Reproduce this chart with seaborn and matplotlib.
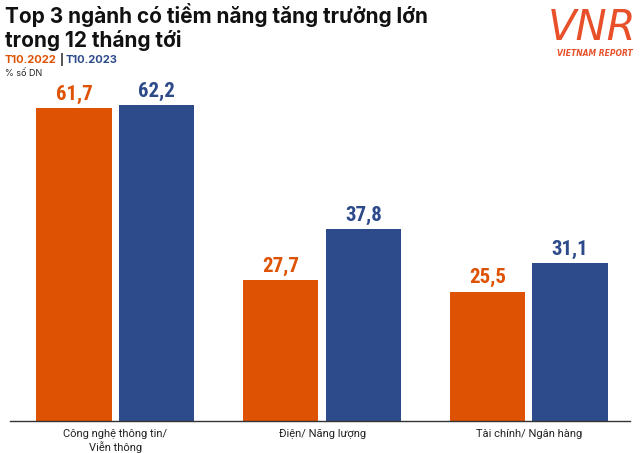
import pandas as pd
import matplotlib.pyplot as plt
import seaborn as sns

# data
categories = ['Công nghệ thông tin/\nViễn thông', 'Điện/ Năng lượng', 'Tài chính/ Ngân hàng']
t2022 = [61.7, 27.7, 25.5]
t2023 = [62.2, 37.8, 31.1]
periods = ['T10.2022', 'T10.2023']

orange = '#DE5203'
blue = '#2D4B8A'

df = pd.DataFrame({
    'Ngành': categories * 2,
    'Kỳ': [periods[0]] * 3 + [periods[1]] * 3,
    'Giá trị': t2022 + t2023,
})

sns.set_style('white')
plt.rcParams['font.family'] = ['Inter', 'DejaVu Sans']

fig = plt.figure(figsize=(6.4, 4.53), dpi=100)
ax = fig.add_axes([0.0156, 0.0706, 0.9688, 0.7307])

sns.barplot(data=df, x='Ngành', y='Giá trị', hue='Kỳ', palette=[orange, blue],
            width=0.8, gap=0.09, legend=False, ax=ax, saturation=1, linewidth=0)

num_font = ['Roboto Condensed', 'Liberation Sans Narrow', 'DejaVu Sans']
for cont, col in zip(ax.containers, [orange, blue]):
    labels = [f'{v:.1f}'.replace('.', ',') for v in cont.datavalues]
    ax.bar_label(cont, labels=labels, padding=3, color=col, fontsize=15,
                 fontweight='bold', family=num_font)

ax.set_ylim(0, 65.2)
ax.set_xlim(-0.51, 2.49)
ax.set_xlabel('')
ax.set_ylabel('')
ax.set_yticks([])
ax.tick_params(axis='x', length=0, pad=6, labelsize=8, colors='#222222')
for lab in ax.get_xticklabels():
    lab.set_family(['Roboto', 'DejaVu Sans'])
for s in ['top', 'right', 'left']:
    ax.spines[s].set_visible(False)
ax.spines['bottom'].set_color('#333333')
ax.spines['bottom'].set_linewidth(1)

# title block
fig.text(0.008, 0.993, 'Top 3 ngành có tiềm năng tăng trưởng lớn\ntrong 12 tháng tới',
         ha='left', va='top', fontsize=15, fontweight='bold', color='#111111', linespacing=1.18)

fig.canvas.draw()
r = fig.canvas.get_renderer()
x0 = 0.008
y_sub = 0.862
t1 = fig.text(x0, y_sub, periods[0], color=orange, fontsize=8, fontweight='bold', va='baseline')
bb = t1.get_window_extent(r)
x1 = bb.x1 / fig.bbox.width + 0.004
t2 = fig.text(x1, y_sub, '|', color='#222222', fontsize=8, fontweight='bold', va='baseline')
bb = t2.get_window_extent(r)
x2 = bb.x1 / fig.bbox.width + 0.004
fig.text(x2, y_sub, periods[1], color=blue, fontsize=8, fontweight='bold', va='baseline')
fig.text(x0, 0.833, '% số DN', color='#222222', fontsize=6.5, va='baseline')

# logo
fig.text(0.925, 0.912, 'VNR', color='#E8502A', fontsize=30, fontstyle='italic',
         fontweight='light', ha='center', va='baseline', family='DejaVu Sans')
fig.text(0.93, 0.876, 'VIETNAM REPORT', color='#E8502A', fontsize=5.5, fontstyle='italic',
         fontweight='bold', ha='center', va='baseline', family='DejaVu Sans')

fig.savefig('out.png', dpi=100)
